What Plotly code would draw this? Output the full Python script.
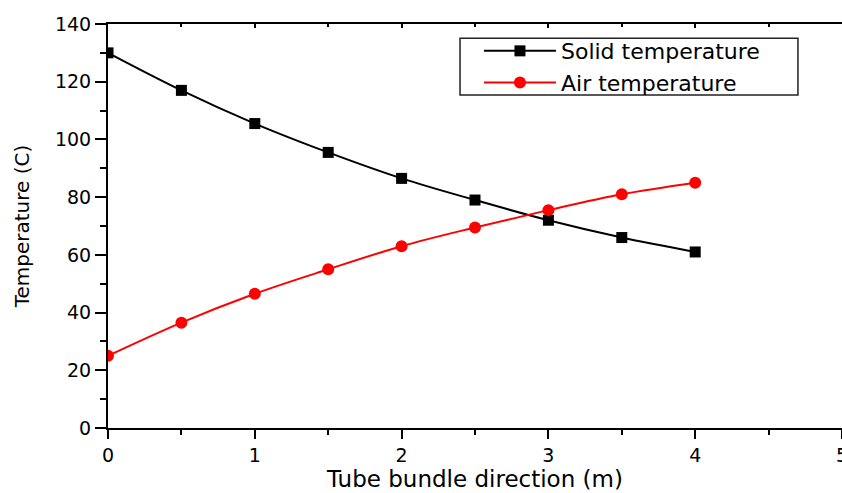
import plotly.graph_objects as go

x_pos = [0, 0.5, 1, 1.5, 2, 2.5, 3, 3.5, 4]
solid_temp = [130, 117, 105.5, 95.5, 86.5, 79, 72, 66, 61]
air_temp = [25, 36.5, 46.5, 55, 63, 69.5, 75.5, 81, 85]

font_family = "DejaVu Sans, Liberation Sans, Arial, sans-serif"

fig = go.Figure()
fig.add_trace(go.Scatter(
    x=x_pos, y=solid_temp, name="Solid temperature", mode="lines+markers",
    line=dict(color="black", width=2, shape="spline"),
    marker=dict(symbol="square", size=11, color="black")))
fig.add_trace(go.Scatter(
    x=x_pos, y=air_temp, name="Air temperature", mode="lines+markers",
    line=dict(color="#ff0000", width=2, shape="spline"),
    marker=dict(symbol="circle", size=12, color="#ff0000")))
# invisible trace for the top mirrored axis
fig.add_trace(go.Scatter(x=[0, 5], y=[0, 0], xaxis="x2", mode="none",
                         showlegend=False, hoverinfo="skip"))

fig.update_layout(
    width=842, height=493,
    margin=dict(l=108, r=0, t=24, b=65),
    paper_bgcolor="white", plot_bgcolor="white",
    font=dict(family=font_family, color="black", size=19),
    showlegend=True,
    legend=dict(x=0.5054, y=0.985, xanchor="left", yanchor="top",
                borderwidth=0, bgcolor="rgba(0,0,0,0)",
                font=dict(size=22), tracegroupgap=0,
                itemwidth=72),
    shapes=[dict(type="rect", xref="paper", yref="paper",
                 x0=0.4796, x1=0.940, y0=0.824, y1=0.965,
                 line=dict(color="#222222", width=1.5),
                 fillcolor="white", layer="below")],
    xaxis=dict(range=[0, 5], dtick=1, showgrid=False, zeroline=False,
               showline=True, linecolor="black", linewidth=2,
               ticks="outside", ticklen=9, tickwidth=2, tickcolor="black",
               minor=dict(dtick=0.5, ticks="outside", ticklen=5,
                          tickwidth=2, tickcolor="black"),
               tickfont=dict(size=19), ticklabeloverflow="allow",
               title=dict(text="Tube bundle direction (m)",
                          font=dict(size=23), standoff=6),
               automargin=False),
    xaxis2=dict(range=[0, 5], overlaying="x", side="top", dtick=1,
                showgrid=False, zeroline=False, showline=True,
                linecolor="black", linewidth=2, ticks="inside",
                ticklen=4, tickwidth=2, tickcolor="black",
                minor=dict(dtick=0.5, ticks="inside", ticklen=3,
                           tickwidth=2, tickcolor="black"),
                showticklabels=False, automargin=False),
    yaxis=dict(range=[0, 140], dtick=20, showgrid=False, zeroline=False,
               showline=True, linecolor="black", linewidth=2,
               ticks="outside", ticklen=11, tickwidth=2, tickcolor="black",
               minor=dict(dtick=10, ticks="outside", ticklen=6,
                          tickwidth=2, tickcolor="black"),
               tickfont=dict(size=19),
               title=dict(text="Temperature (C)", font=dict(size=20),
                          standoff=20),
               automargin=False),
)

fig.write_html("out.html",
               config={"displayModeBar": False},
               post_script="document.body.style.margin='0';")
